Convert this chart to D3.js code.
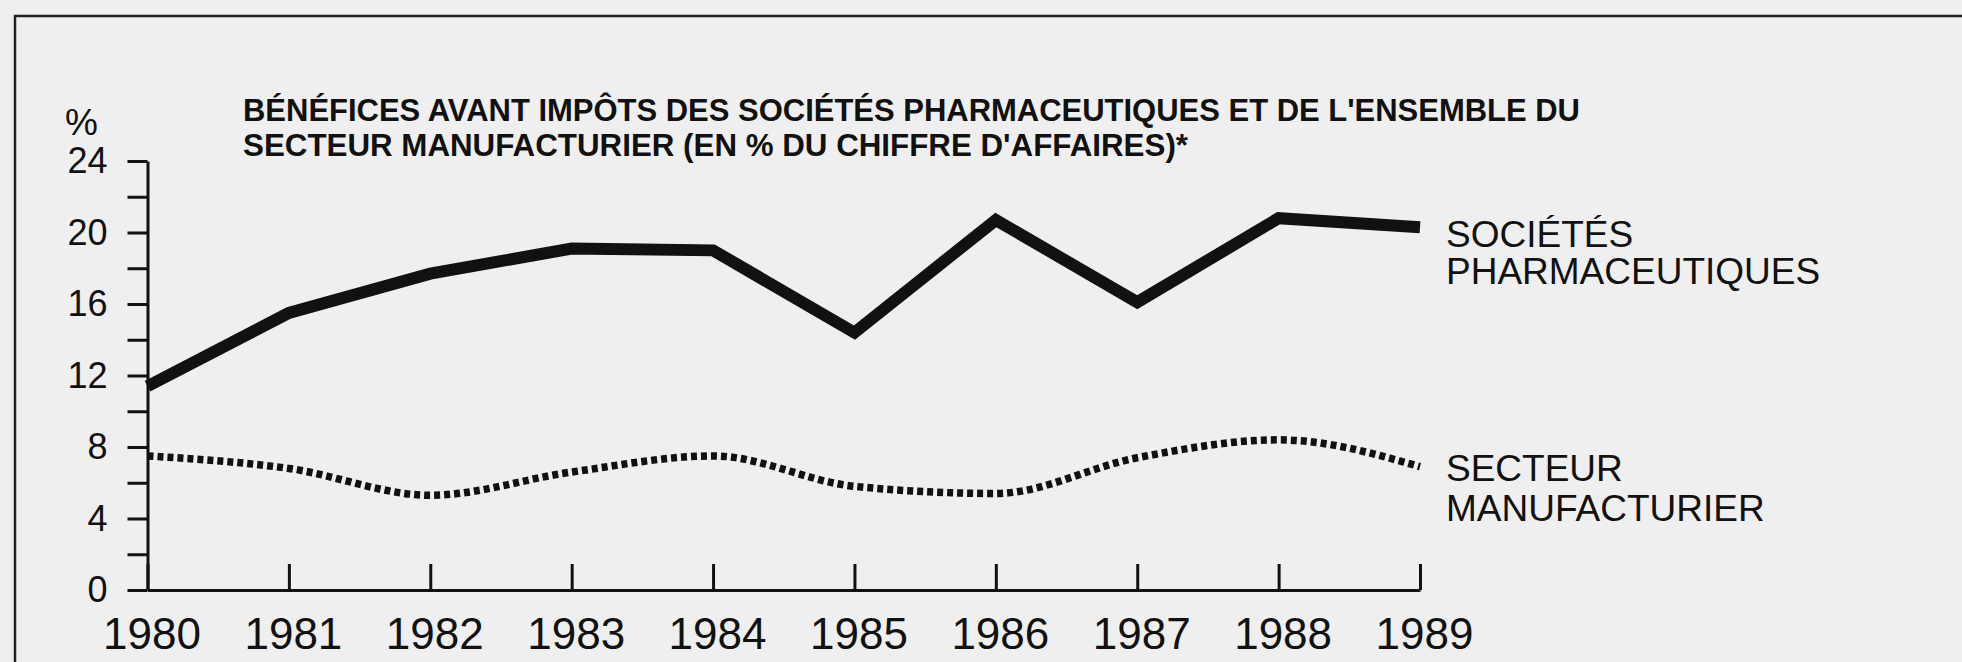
<!DOCTYPE html>
<html><head><meta charset="utf-8">
<script src="https://cdn.jsdelivr.net/npm/d3@7"></script>
<style>html,body{margin:0;padding:0;background:#efefef;} svg{display:block;}</style>
</head><body><svg id="c" width="1962" height="662"></svg>
<script>
// ---- data ----
const years = [1980, 1981, 1982, 1983, 1984, 1985, 1986, 1987, 1988, 1989];
const pharma = [11.4, 15.5, 17.7, 19.1, 19.0, 14.4, 20.7, 16.1, 20.8, 20.3];
const manuf  = [7.5, 6.8, 5.3, 6.6, 7.5, 5.8, 5.4, 7.4, 8.4, 6.9];
const yTickValues = [0, 2, 4, 6, 8, 10, 12, 14, 16, 18, 20, 22, 24];
const yLabelValues = [0, 4, 8, 12, 16, 20, 24];
const yUnit = "%";
const titleLines = [
  "BÉNÉFICES AVANT IMPÔTS DES SOCIÉTÉS PHARMACEUTIQUES ET DE L'ENSEMBLE DU",
  "SECTEUR MANUFACTURIER (EN % DU CHIFFRE D'AFFAIRES)*"
];
const pharmaLabel = ["SOCIÉTÉS", "PHARMACEUTIQUES"];
const manufLabel = ["SECTEUR", "MANUFACTURIER"];

// ---- layout ----
const svg = d3.select("#c");
const ink = "#111";
const font = "'Liberation Sans', Arial, Helvetica, sans-serif";

svg.append("rect").attr("width", 1962).attr("height", 662).attr("fill", "#efefef");
// frame
svg.append("path").attr("d", "M15,662V16H1962").attr("fill", "none")
   .attr("stroke", "#222").attr("stroke-width", 2.5);

const x = d3.scalePoint().domain(years).range([147.5, 1420]);
const y = d3.scaleLinear().domain([0, 24]).range([590, 161]);

// Y axis
const gy = svg.append("g").attr("transform", `translate(${x(years[0])},0)`)
  .call(d3.axisLeft(y).tickValues(yTickValues).tickSize(20).tickSizeOuter(0).tickPadding(20)
        .tickFormat(d => yLabelValues.includes(d) ? d : ""));
gy.selectAll("path,line").attr("stroke", ink).attr("stroke-width", 3);
gy.selectAll("text").attr("font-family", font).attr("font-size", 36).attr("fill", ink);

// unit label
svg.append("text").attr("x", 65).attr("y", y(24) - 26)
  .attr("font-family", font).attr("font-size", 37).attr("fill", ink).text(yUnit);

// X axis
const gx = svg.append("g").attr("transform", `translate(0,${y(0)})`)
  .call(d3.axisBottom(x).tickSize(-26).tickSizeOuter(0).tickPadding(28));
gx.selectAll("path,line").attr("stroke", ink).attr("stroke-width", 3);
gx.selectAll("text").attr("font-family", font).attr("font-size", 44).attr("fill", ink).attr("dx", 4);

// lines
const linePh = d3.line().x((d, i) => x(years[i])).y(d => y(d));
svg.append("path").datum(pharma).attr("d", linePh)
  .attr("fill", "none").attr("stroke", ink).attr("stroke-width", 12)
  .attr("stroke-linejoin", "miter").attr("stroke-linecap", "butt");

const lineMf = d3.line().x((d, i) => x(years[i])).y(d => y(d)).curve(d3.curveMonotoneX);
svg.append("path").datum(manuf).attr("d", lineMf)
  .attr("fill", "none").attr("stroke", ink).attr("stroke-width", 7.5)
  .attr("stroke-dasharray", "6 4");

// title
const tLens = [1337, 945];
svg.append("g").selectAll("text").data(titleLines).join("text")
  .attr("x", 243).attr("y", (d, i) => 121 + i * 35)
  .attr("font-family", font).attr("font-weight", "bold").attr("font-size", 31)
  .attr("fill", ink).attr("textLength", (d, i) => tLens[i]).attr("lengthAdjust", "spacingAndGlyphs")
  .text(d => d);

// series labels
function seriesLabel(lines, yBase, gap) {
  svg.append("g").selectAll("text").data(lines).join("text")
    .attr("x", 1446).attr("y", (d, i) => yBase + i * gap)
    .attr("font-family", font).attr("font-size", 37).attr("fill", ink).text(d => d);
}
seriesLabel(pharmaLabel, 247, 37);
seriesLabel(manufLabel, 481, 40);
</script>
</body></html>
